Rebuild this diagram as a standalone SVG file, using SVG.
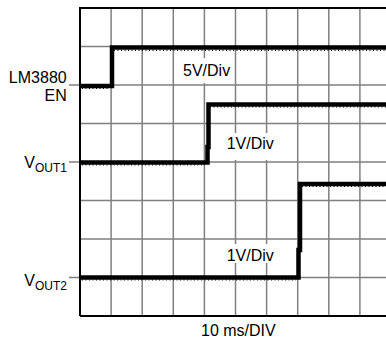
<svg xmlns="http://www.w3.org/2000/svg" width="386" height="341" viewBox="0 0 386 341">
<style>
.grid{stroke:#808080;stroke-width:1.5;fill:none}
.border{stroke:#000;stroke-width:2;fill:none}
.trace{stroke:#000;stroke-width:4.5;fill:none;stroke-linejoin:miter}
.noise{stroke:#000;stroke-width:1.2;fill:none;stroke-dasharray:1 2.5}
.lbl{font-family:"Liberation Sans",Arial,sans-serif;font-size:16px;fill:#000}
.bg{fill:#fff}
</style>
<rect width="386" height="341" fill="#fff"/>
<g id="grid">
<path class="grid" d="M111.1 8V316M142.2 8V316M173.3 8V316M204.4 8V316M235.5 8V316M266.6 8V316M297.7 8V316M328.8 8V316M359.9 8V316"/>
<path class="grid" d="M80 46.5H386M69 85H386M80 123.5H386M69 162H386M80 200.5H386M80 239H386M69 277.5H386"/>
<path class="border" d="M80 316V8H386M80 316H386"/>
</g>
<g id="labels">
<rect class="bg" x="178" y="58" width="56" height="25"/>
<rect class="bg" x="222" y="133" width="55" height="27"/>
<rect class="bg" x="222" y="244" width="55" height="19"/>
<text class="lbl" x="183" y="76">5V/Div</text>
<text class="lbl" x="226.7" y="149">1V/Div</text>
<text class="lbl" x="226.7" y="260.5">1V/Div</text>
<text class="lbl" x="201" y="336">10 ms/DIV</text>
<text class="lbl" x="66.7" y="83" text-anchor="end">LM3880</text>
<text class="lbl" x="66.7" y="100.5" text-anchor="end">EN</text>
<text class="lbl" x="67" y="167.5" text-anchor="end">V<tspan font-size="12" dy="4">OUT1</tspan></text>
<text class="lbl" x="67" y="285.5" text-anchor="end">V<tspan font-size="12" dy="4">OUT2</tspan></text>
</g>
<g id="traces">
<path class="trace" d="M80 86H112V47.5H386"/>
<path class="trace" d="M80 162.5H207.5V147H208.5V104.5H386"/>
<path class="trace" d="M80 277.5H298.5V250H300V184H386"/>
<path class="noise" d="M114 50.5H386M210 107H386M302 186.5H386M82 88.5H110M82 165H205M82 280H296"/>
</g>
</svg>
